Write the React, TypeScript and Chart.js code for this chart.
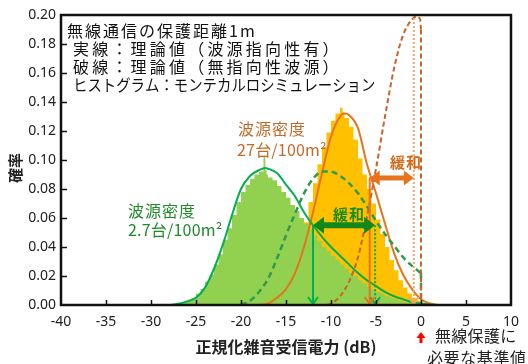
import React, { useEffect, useRef } from 'react';
import { Chart, registerables } from 'chart.js';

Chart.register(...registerables);

// ---------- data ----------
const xMin = -40;
const xMax = 10;
const xStep = 5;
const yMin = 0;
const yMax = 0.2;
const yStep = 0.02;

// solid curves (theory, directional source)
const solidGreenX = [-28, -27, -26, -25, -24, -23, -22, -21, -20, -19, -18, -17.3, -17, -16, -15, -14, -13, -12, -11, -10, -9, -8, -7, -6, -5, -4, -3, -2, -1, 0, 1, 2];
const solidGreenY = [0, 0.0008, 0.0025, 0.005, 0.012, 0.025, 0.042, 0.062, 0.080, 0.089, 0.093, 0.0945, 0.094, 0.091, 0.083, 0.075, 0.064, 0.055, 0.047, 0.040, 0.034, 0.028, 0.022, 0.017, 0.013, 0.009, 0.006, 0.004, 0.002, 0.001, 0.0003, 0];

const solidOrangeX = [-30, -18, -17, -16, -15, -14, -13, -12, -11, -10, -9, -8.5, -8, -7, -6, -5, -4, -3, -2, -1, 0, 1, 2, 5];
const solidOrangeY = [0, 0, 0.001, 0.005, 0.011, 0.022, 0.040, 0.064, 0.091, 0.116, 0.130, 0.132, 0.131, 0.122, 0.097, 0.077, 0.056, 0.036, 0.021, 0.011, 0.004, 0.001, 0, 0];

// dashed curves (theory, omni-directional source)
const dashedGreenX = [-20, -19, -18, -17, -16, -15, -14, -13, -12, -11, -10, -9, -8, -7, -6, -5, -4, -3, -2, -1, 0];
const dashedGreenY = [0, 0.003, 0.009, 0.018, 0.032, 0.048, 0.063, 0.077, 0.087, 0.092, 0.092, 0.089, 0.084, 0.077, 0.068, 0.058, 0.049, 0.041, 0.033, 0.027, 0.022];
const dashedGreenDropX = [0, 0];
const dashedGreenDropY = [0.022, 0];

const dashedOrangeX = [-30, -11, -10, -9, -8, -7, -6, -5, -4, -3, -2, -1, -0.5, -0.1, 0];
const dashedOrangeY = [0, 0, 0.001, 0.006, 0.016, 0.033, 0.061, 0.094, 0.130, 0.163, 0.186, 0.197, 0.199, 0.197, 0.19];
const dashedOrangeDropX = [0, 0];
const dashedOrangeDropY = [0.19, 0];

// histograms (Monte Carlo), bin left edges and heights
const histGreenEdges = [-27.5, -27, -26.5, -26, -25.5, -25, -24.5, -24, -23.5, -23, -22.5, -22, -21.5, -21, -20.5, -20, -19.5, -19, -18.5, -18, -17.5, -17.3, -17.15, -17, -16.5, -16, -15.5, -15, -14.5, -14, -13.5, -13, -12.5, -12, -11.5, -11, -10.5, -10, -9.5, -9, -8.5, -8, -7.5, -7, -6.5, -6, -5.5, -5, -4.5, -4, -3.5, -3, -2.5, -2, -1.5, -1, -0.5, 0, 0.5];
const histGreenValues = [0, 0.0005, 0.001, 0.002, 0.003, 0.005, 0.008, 0.011, 0.016, 0.021, 0.028, 0.035, 0.045, 0.053, 0.062, 0.071, 0.078, 0.083, 0.087, 0.090, 0.092, 0.103, 0.093, 0.090, 0.088, 0.086, 0.082, 0.078, 0.074, 0.069, 0.065, 0.060, 0.056, 0.052, 0.048, 0.044, 0.040, 0.037, 0.034, 0.031, 0.028, 0.025, 0.022, 0.020, 0.017, 0.015, 0.013, 0.011, 0.009, 0.008, 0.006, 0.005, 0.004, 0.003, 0.002, 0.0015, 0.001, 0.0005, 0];

const histOrangeEdges = [-17, -16.5, -16, -15.5, -15, -14.5, -14, -13.5, -13, -12.5, -12, -11.5, -11, -10.5, -10, -9.5, -9, -8.7, -8.5, -8, -7.5, -7, -6.5, -6, -5.5, -5, -4.5, -4, -3.5, -3, -2.5, -2, -1.5, -1, -0.5, 0, 0.5, 1];
const histOrangeValues = [0, 0.002, 0.004, 0.007, 0.011, 0.016, 0.024, 0.033, 0.044, 0.057, 0.071, 0.084, 0.097, 0.109, 0.119, 0.127, 0.132, 0.136, 0.133, 0.129, 0.123, 0.114, 0.101, 0.090, 0.080, 0.070, 0.059, 0.049, 0.040, 0.031, 0.024, 0.017, 0.012, 0.008, 0.005, 0.003, 0.001, 0];

// reference (threshold) points: x in dB, top of marker in probability
const refGreenSolid = [-12, 0.055];
const refGreenDashed = [-5.1, 0.055];
const refOrangeSolid = [-5.7, 0.088];
const refOrangeDashed = [-0.8, 0.198];

// relief double arrows: [from dB, to dB, probability level]
const reliefGreen = [-12, -5.1, 0.055];
const reliefOrange = [-5.7, -0.8, 0.0876];

const yTitle = '確率';
const xTitle = '正規化雑音受信電力 (dB)';
const infoLines = ['無線通信の保護距離1m', '実線：理論値（波源指向性有）', '破線：理論値（無指向性波源）', 'ヒストグラム：モンテカルロシミュレーション'];
const orangeDensity = ['波源密度', '27台/100m²'];
const greenDensity = ['波源密度', '2.7台/100m²'];
const reliefLabel = '緩和';
const criterionLines = ['無線保護に', '必要な基準値'];

// ---------- styles ----------
const C_GREEN_HIST = '#92d050';
const C_ORANGE_HIST = '#ffc000';
const C_GREEN = '#00b050';
const C_GREEN_DASH = '#2e9b4e';
const C_ORANGE = '#e8731e';
const C_ORANGE_DASH = '#c8642a';
const C_ORANGE_DOT = '#f2a46a';
const C_GREEN_ARROW = '#12881a';
const C_ORANGE_ARROW = '#e8731e';
const JP = "'Noto Sans CJK JP', 'Noto Sans', sans-serif";

const pts = (xs: number[], ys: number[]) => xs.map((x, i) => ({ x, y: ys[i] }));

function txt(ctx: CanvasRenderingContext2D, s: string, x: number, y: number, font: string, color: string, spacing = 0, sx = 1, align: CanvasTextAlign = 'left') {
  ctx.save();
  (ctx as any).letterSpacing = spacing + 'px';
  ctx.font = font;
  ctx.fillStyle = color;
  ctx.textBaseline = 'middle';
  ctx.textAlign = align;
  ctx.translate(x, y);
  ctx.scale(sx, 1);
  ctx.fillText(s, 0, 0);
  ctx.restore();
}

function vArrow(ctx: CanvasRenderingContext2D, px: number, top: number, bottom: number, color: string, dash: number[], width: number) {
  ctx.save();
  ctx.strokeStyle = color;
  ctx.lineWidth = width;
  ctx.setLineDash(dash);
  ctx.beginPath();
  ctx.moveTo(px, top);
  ctx.lineTo(px, bottom - 1);
  ctx.stroke();
  ctx.setLineDash([]);
  ctx.lineWidth = 2;
  ctx.beginPath();
  ctx.moveTo(px - 5, bottom - 8);
  ctx.lineTo(px, bottom - 1);
  ctx.lineTo(px + 5, bottom - 8);
  ctx.stroke();
  ctx.restore();
}

function dArrow(ctx: CanvasRenderingContext2D, x1: number, x2: number, y: number, color: string, shaft: number, headH: number, headL: number) {
  ctx.save();
  ctx.fillStyle = color;
  ctx.fillRect(x1 + headL - 1, y - shaft / 2, x2 - x1 - 2 * headL + 2, shaft);
  ctx.beginPath();
  ctx.moveTo(x1, y);
  ctx.lineTo(x1 + headL, y - headH / 2);
  ctx.lineTo(x1 + headL, y + headH / 2);
  ctx.closePath();
  ctx.fill();
  ctx.beginPath();
  ctx.moveTo(x2, y);
  ctx.lineTo(x2 - headL, y - headH / 2);
  ctx.lineTo(x2 - headL, y + headH / 2);
  ctx.closePath();
  ctx.fill();
  ctx.restore();
}

const overlay = {
  id: 'overlay',
  afterDatasetsDraw(chart: any) {
    const { ctx, chartArea: a, scales } = chart;
    const xs = scales.x;
    const ys = scales.y;
    const X = (v: number) => xs.getPixelForValue(v);
    const Y = (v: number) => ys.getPixelForValue(v);

    // reference markers
    vArrow(ctx, X(refGreenSolid[0]), Y(refGreenSolid[1]), a.bottom, C_GREEN, [], 2);
    vArrow(ctx, X(refGreenDashed[0]), Y(refGreenDashed[1]), a.bottom, C_GREEN, [2, 2], 2);
    vArrow(ctx, X(refOrangeSolid[0]), Y(refOrangeSolid[1]), a.bottom, C_ORANGE, [], 2);
    vArrow(ctx, X(refOrangeDashed[0]), Y(refOrangeDashed[1]), a.bottom, C_ORANGE_DOT, [2, 2], 2);

    // relief arrows
    dArrow(ctx, X(reliefGreen[0]), X(reliefGreen[1]), Y(reliefGreen[2]), C_GREEN_ARROW, 6, 17, 11);
    dArrow(ctx, X(reliefOrange[0]), X(reliefOrange[1]), Y(reliefOrange[2]), C_ORANGE_ARROW, 5, 15, 10);

    // frame
    ctx.save();
    ctx.strokeStyle = '#111';
    ctx.lineWidth = 2.5;
    ctx.strokeRect(a.left, a.top, a.right - a.left, a.bottom - a.top);
    // inward ticks
    ctx.lineWidth = 1.5;
    ctx.beginPath();
    for (let v = xMin + xStep; v < xMax; v += xStep) {
      const p = Math.round(X(v)) + 0.5;
      ctx.moveTo(p, a.bottom);
      ctx.lineTo(p, a.bottom - 5);
    }
    for (let i = 1; i < Math.round((yMax - yMin) / yStep); i++) {
      const p = Math.round(Y(yMin + i * yStep)) + 0.5;
      ctx.moveTo(a.left, p);
      ctx.lineTo(a.left + 6, p);
    }
    ctx.stroke();
    ctx.restore();

    // texts
    const f16 = `16px ${JP}`;
    txt(ctx, infoLines[0], 67, 31, f16, '#111', 2);
    txt(ctx, infoLines[1], 73, 49, f16, '#111', 3.2);
    txt(ctx, infoLines[2], 73, 67, f16, '#111', 3.2);
    txt(ctx, infoLines[3], 73, 85, f16, '#111', 0, 0.9);

    txt(ctx, orangeDensity[0], 238, 129, f16, '#c46a28', 1);
    txt(ctx, orangeDensity[1], 237, 150, f16, '#c46a28', 0.2);
    txt(ctx, greenDensity[0], 128, 211, f16, '#1e8a2a', 1);
    txt(ctx, greenDensity[1], 128, 230, f16, '#1e8a2a', 0.2);

    txt(ctx, reliefLabel, 390, 162, `bold 15px ${JP}`, '#d4691c', 1);
    txt(ctx, reliefLabel, 333, 214, `bold 15px ${JP}`, '#1a8a1a', 1);

    // y title
    ctx.save();
    ctx.translate(15, 168);
    ctx.rotate(-Math.PI / 2);
    ctx.font = `bold 15px ${JP}`;
    ctx.fillStyle = '#222';
    ctx.textAlign = 'center';
    ctx.textBaseline = 'middle';
    ctx.fillText(yTitle, 0, 0);
    ctx.restore();

    // criterion note
    const zx = X(0);
    ctx.save();
    ctx.fillStyle = '#ff0000';
    ctx.beginPath();
    ctx.moveTo(zx, 332);
    ctx.lineTo(zx - 4.5, 338);
    ctx.lineTo(zx + 4.5, 338);
    ctx.closePath();
    ctx.fill();
    ctx.fillRect(zx - 1.5, 337, 3, 6);
    ctx.restore();
    txt(ctx, criterionLines[0], 435, 336, f16, '#222', 0.3);
    txt(ctx, criterionLines[1], 427, 358, f16, '#222', 0.6);
  },
};

export default function App() {
  const ref = useRef<HTMLCanvasElement>(null);
  useEffect(() => {
    if (!ref.current) return;
    const lineCommon = { pointRadius: 0, fill: false, cubicInterpolationMode: 'monotone' as const };
    const chart = new Chart(ref.current, {
      type: 'line',
      data: {
        datasets: [
          { ...lineCommon, data: pts(dashedOrangeDropX, dashedOrangeDropY), borderColor: C_ORANGE_DASH, borderWidth: 2, borderDash: [5, 3], cubicInterpolationMode: 'default', tension: 0 },
          { ...lineCommon, data: pts(dashedOrangeX, dashedOrangeY), borderColor: C_ORANGE_DASH, borderWidth: 2, borderDash: [5, 3] },
          { ...lineCommon, data: pts(dashedGreenDropX, dashedGreenDropY), borderColor: C_GREEN_DASH, borderWidth: 2.5, borderDash: [6, 4], cubicInterpolationMode: 'default', tension: 0 },
          { ...lineCommon, data: pts(dashedGreenX, dashedGreenY), borderColor: C_GREEN_DASH, borderWidth: 2.5, borderDash: [6, 4] },
          { ...lineCommon, data: pts(solidGreenX, solidGreenY), borderColor: C_GREEN, borderWidth: 2 },
          { ...lineCommon, data: pts(solidOrangeX, solidOrangeY), borderColor: C_ORANGE, borderWidth: 2 },
          { data: pts(histGreenEdges, histGreenValues), stepped: 'after', pointRadius: 0, borderWidth: 0, borderColor: 'rgba(0,0,0,0)', backgroundColor: C_GREEN_HIST, fill: 'origin' },
          { data: pts(histOrangeEdges, histOrangeValues), stepped: 'after', pointRadius: 0, borderWidth: 0, borderColor: 'rgba(0,0,0,0)', backgroundColor: C_ORANGE_HIST, fill: 'origin' },
        ] as any,
      },
      options: {
        animation: false,
        responsive: false,
        devicePixelRatio: 1,
        layout: { padding: { top: 15, right: 13, left: 0, bottom: 0 } },
        plugins: { legend: { display: false }, tooltip: { enabled: false } },
        scales: {
          x: {
            type: 'linear',
            min: xMin,
            max: xMax,
            grid: { display: false, drawTicks: false },
            border: { display: false },
            ticks: { stepSize: xStep, padding: 9, color: '#222', font: { family: "'Noto Sans', sans-serif", size: 14 }, callback: (v: any) => String(v), autoSkip: false, maxRotation: 0 },
            title: { display: true, text: xTitle, color: '#222', font: { family: JP, size: 16, weight: 'bold' }, padding: { top: 0, bottom: 7 } },
            afterFit: (s: any) => { s.height = 59; },
          },
          y: {
            type: 'linear',
            min: yMin,
            max: yMax,
            grid: { display: false, drawTicks: false },
            border: { display: false },
            ticks: { stepSize: yStep, padding: 5, color: '#222', font: { family: "'Noto Sans', sans-serif", size: 14 }, callback: (v: any) => Number(v).toFixed(2), autoSkip: false },
            afterFit: (s: any) => { s.width = 61; },
          },
        },
      } as any,
      plugins: [overlay],
    });
    return () => chart.destroy();
  }, []);
  return (
    <div style={{ position: 'fixed', left: 0, top: 0, width: 528, height: 364, background: '#fff' }}>
      <canvas ref={ref} width={528} height={364} />
    </div>
  );
}
